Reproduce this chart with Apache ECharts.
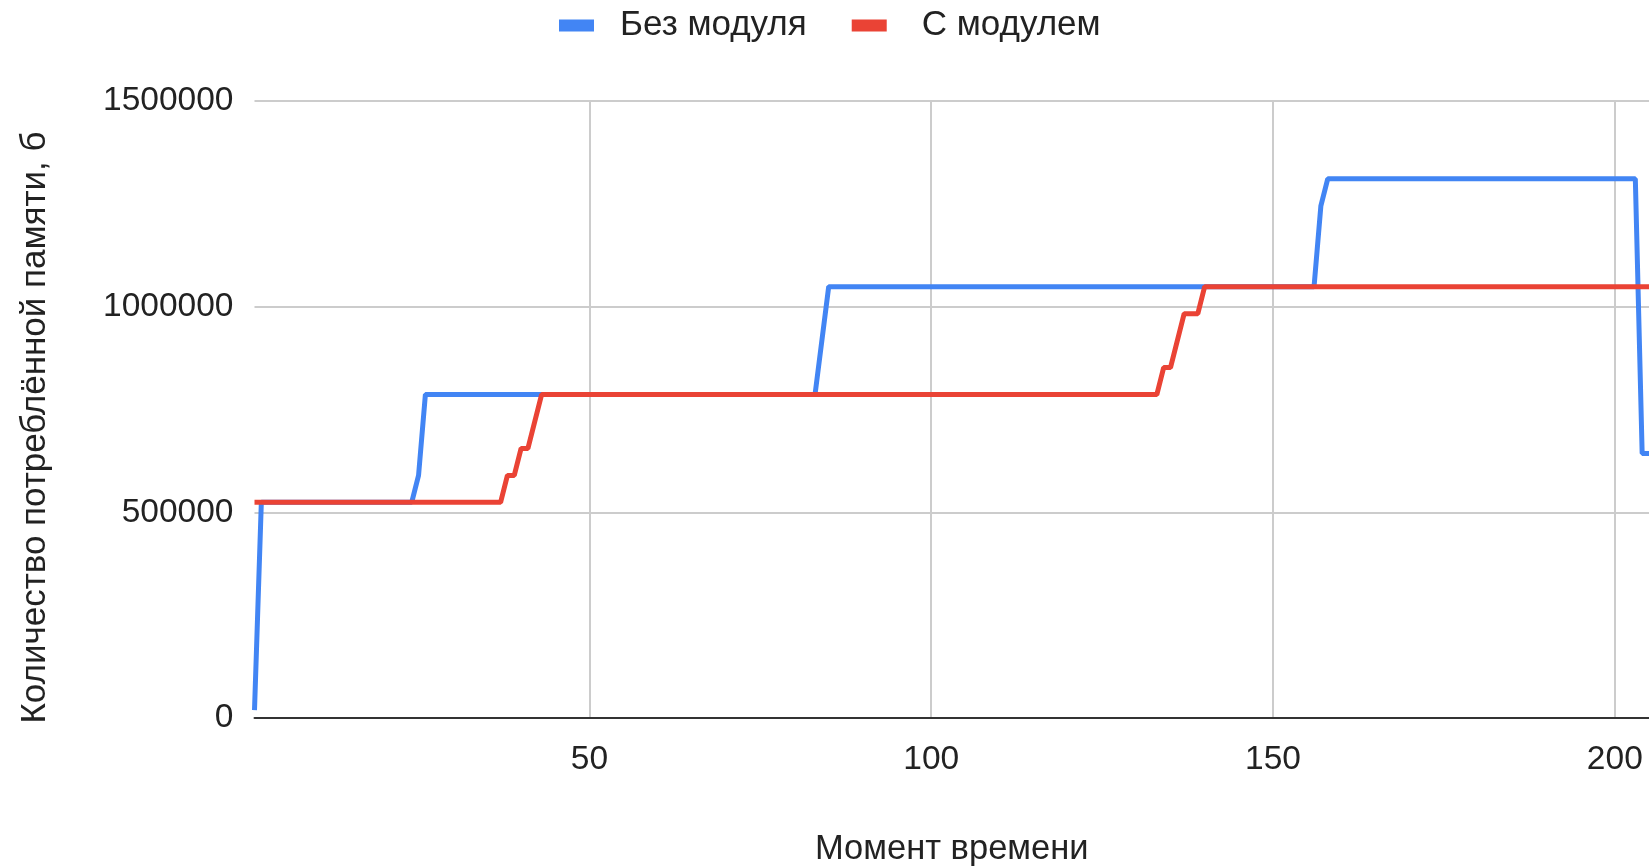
<!DOCTYPE html>
<html><head><meta charset="utf-8">
<script src="https://cdn.jsdelivr.net/npm/echarts@6/dist/echarts.min.js"></script>
<style>html,body{margin:0;padding:0;background:#fff}#c{width:1649px;height:868px}</style>
</head><body><div id="c"></div>
<script>
const seriesNames = ['Без модуля', 'С модулем'];
const xTickValues = [50, 100, 150, 200];
const yTickValues = [0, 500000, 1000000, 1500000];
const xAxisTitle = 'Момент времени';
const yAxisTitle = 'Количество потреблённой памяти, б';
// Без модуля
const blueX = [1, 2, 24, 25, 26, 83, 85, 156, 157, 158, 203, 204, 205];
const blueY = [19000, 524288, 524288, 589824, 786432, 786432, 1048576, 1048576, 1245184, 1310720, 1310720, 643000, 643000];
// С модулем
const redX = [1, 37, 38, 39, 40, 41, 43, 133, 134, 135, 137, 139, 140, 205];
const redY = [524288, 524288, 589824, 589824, 655360, 655360, 786432, 786432, 851968, 851968, 983040, 983040, 1048576, 1048576];

const FONT = "'Liberation Sans', Arial, sans-serif";
const chart = echarts.init(document.getElementById('c'), null, {renderer: 'canvas'});
const pairs = (xs, ys) => xs.map((x, i) => [x, ys[i]]);
chart.setOption({
  animation: false,
  backgroundColor: '#ffffff',
  textStyle: {fontFamily: FONT},
  legend: {
    top: 3, left: 554,
    itemWidth: 35, itemHeight: 12, itemGap: 45,
    icon: 'rect',
    textStyle: {fontFamily: FONT, fontSize: 35, color: '#222'},
    data: [
      {name: seriesNames[0], textStyle: {padding: [0, 0, 0, 21]}},
      {name: seriesNames[1], textStyle: {padding: [0, 0, 0, 30]}}
    ]
  },
  grid: {left: 254.5, right: 0, top: 101, bottom: 150, containLabel: false, outerBoundsMode: 'none'},
  xAxis: {
    type: 'value', min: 1, max: 205,
    name: xAxisTitle, nameLocation: 'middle', nameGap: 114,
    nameTextStyle: {fontFamily: FONT, fontSize: 34.5, color: '#222'},
    axisLine: {show: true, onZero: false, lineStyle: {color: '#333', width: 2}},
    axisTick: {show: false, customValues: xTickValues},
    axisLabel: {customValues: xTickValues, fontFamily: FONT, fontSize: 33.5, color: '#222', margin: 25},
    splitLine: {show: true, lineStyle: {color: '#cccccc', width: 2}}
  },
  yAxis: {
    type: 'value', min: 0, max: 1500000, interval: 500000,
    name: yAxisTitle, nameLocation: 'middle', nameGap: 202, nameRotate: 90,
    nameTextStyle: {fontFamily: FONT, fontSize: 35, color: '#222', padding: [0, 36, 0, 0]},
    axisLine: {show: false},
    axisTick: {show: false},
    axisLabel: {fontFamily: FONT, fontSize: 33.5, color: '#222', margin: 21, formatter: v => String(v)},
    splitLine: {show: true, lineStyle: {color: '#cccccc', width: 2}}
  },
  series: [
    {name: seriesNames[0], type: 'line', data: pairs(blueX, blueY), showSymbol: false, symbol: 'none',
     itemStyle: {color: '#4285f4'}, lineStyle: {color: '#4285f4', width: 5}},
    {name: seriesNames[1], type: 'line', data: pairs(redX, redY), showSymbol: false, symbol: 'none',
     itemStyle: {color: '#ea4335'}, lineStyle: {color: '#ea4335', width: 5}}
  ]
});
</script></body></html>
